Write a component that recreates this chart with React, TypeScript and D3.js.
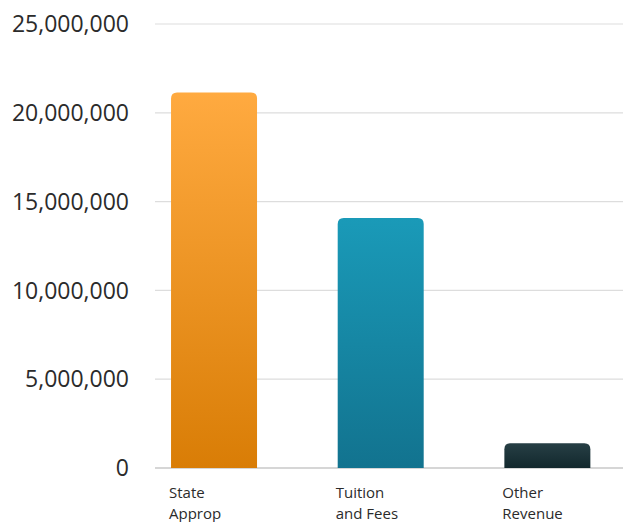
import React from "react";
import * as d3 from "d3";

const categories = ["State Approp", "Tuition and Fees", "Other Revenue"];
const labelLines = [["State", "Approp"], ["Tuition", "and Fees"], ["Other", "Revenue"]];
const values = [21150000, 14080000, 1390000];
const yTicks = [0, 5000000, 10000000, 15000000, 20000000, 25000000];
const gradTop = ["#FFAA40", "#1A9AB8", "#273F45"];
const gradBottom = ["#D97D06", "#12738F", "#12282D"];

const W = 623;
const H = 522;

function roundTopRect(x: number, y: number, w: number, h: number, r: number) {
  const rr = Math.min(r, h, w / 2);
  return `M${x},${y + h}V${y + rr}Q${x},${y} ${x + rr},${y}H${x + w - rr}Q${x + w},${y} ${x + w},${y + rr}V${y + h}Z`;
}

export default function App() {
  const y = d3.scaleLinear().domain([0, 25000000]).range([468, 24]);
  const x = d3
    .scaleBand<string>()
    .domain(categories)
    .range([130.7, 630.7])
    .paddingInner(0.484)
    .paddingOuter(0.242);
  const fmt = d3.format(",");
  const font = "'Open Sans', 'Noto Sans', sans-serif";

  return (
    <svg
      width={W}
      height={H}
      style={{ position: "absolute", left: 0, top: 0, background: "#fff" }}
      fontFamily={font}
    >
      <defs>
        {categories.map((c, i) => (
          <linearGradient key={c} id={`g${i}`} x1="0" y1="0" x2="0" y2="1">
            <stop offset="0%" stopColor={gradTop[i]} />
            <stop offset="100%" stopColor={gradBottom[i]} />
          </linearGradient>
        ))}
      </defs>
      {yTicks.map((t) => (
        <g key={t}>
          <line
            x1={155}
            x2={W}
            y1={y(t)}
            y2={y(t)}
            stroke={t === 0 ? "#c8c8c8" : "#dddddd"}
            strokeWidth={t === 0 ? 1.5 : 1.2}
          />
          <text
            x={129}
            y={y(t)}
            dy="0.36em"
            textAnchor="end"
            fontSize={23}
            fill="#2b2b2b"
          >
            {fmt(t)}
          </text>
        </g>
      ))}
      {categories.map((c, i) => {
        const bx = x(c)!;
        const bw = x.bandwidth();
        const top = y(values[i]);
        return (
          <path
            key={c}
            d={roundTopRect(bx, top, bw, y(0) - top, 6)}
            fill={`url(#g${i})`}
          />
        );
      })}
      {categories.map((c, i) =>
        labelLines[i].map((l, j) => (
          <text
            key={c + j}
            x={x(c)! - 2}
            y={498 + j * 20.6}
            fontSize={15}
            fill="#2b2b2b"
          >
            {l}
          </text>
        ))
      )}
    </svg>
  );
}
